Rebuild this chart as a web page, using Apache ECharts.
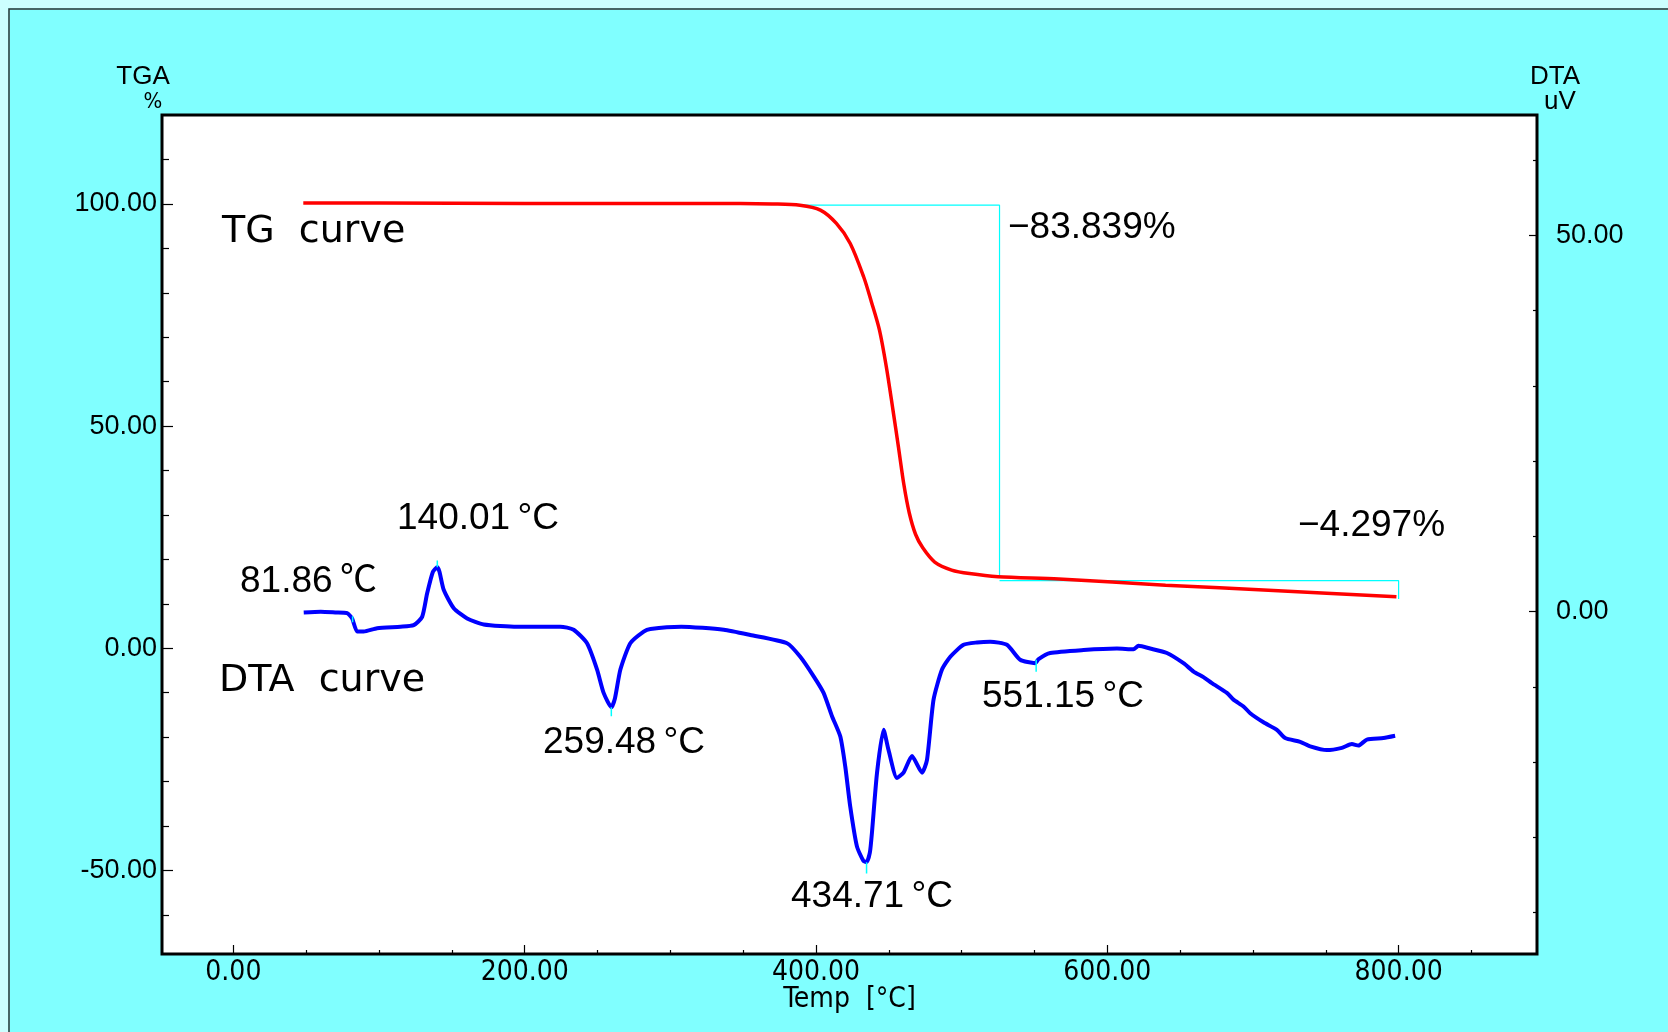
<!DOCTYPE html>
<html>
<head>
<meta charset="utf-8">
<script src="https://cdn.jsdelivr.net/npm/echarts@6/dist/echarts.min.js"></script>
<style>
html,body{margin:0;padding:0;background:#80ffff;}
#chart{width:1668px;height:1032px;}
</style>
</head>
<body>
<div id="chart"></div>
<script>
// ---- data ----
const tempLabelValues = [0, 200, 400, 600, 800];
const tempMinorTicks = [50, 100, 150, 250, 300, 350, 450, 500, 550, 650, 700, 750, 850];
const tgaLabelValues = [100, 50, 0, -50];
const tgaMinorTicks = [-60, -40, -30, -20, -10, 10, 20, 30, 40, 60, 70, 80, 90, 110];
const dtaLabelValues = [50, 0];
const dtaMinorTicks = [-40, -30, -20, -10, 10, 20, 30, 40, 60];

const tgCurve = [
  [48, 100.2], [100, 100.2], [200, 100.1], [300, 100.1], [348, 100.1], [370, 100.0],
  [389, 99.7], [403, 98.6], [414, 95.6], [423.5, 91.1], [432.7, 83.6], [438, 78.0],
  [443.5, 71.7], [448.3, 63.3], [452.8, 53.7], [456.6, 45.3], [460.3, 36.9], [464, 30.5],
  [468.4, 25.6], [473.3, 22.6], [481.5, 19.4], [493.1, 17.6], [505.4, 16.8], [525, 16.1],
  [566.7, 15.6], [640, 14.2], [714, 13.0], [798.5, 11.6]
];

const dtaCurve = [
  [48.3, -0.1], [60, 0.0], [70, -0.1], [78.1, -0.2], [81.5, -0.9], [85.0, -2.65], [89.5, -2.65],
  [98.7, -2.2], [114.7, -2.0], [123.8, -1.8], [129.6, -0.7], [133.0, 2.4], [137.0, 5.3],
  [140.0, 5.9], [141.5, 5.3], [144.4, 2.9], [151.3, 0.45], [160.5, -0.9], [171.9, -1.7],
  [194.8, -2.0], [224.5, -2.0], [233.6, -2.4], [242.8, -4.2], [249.7, -7.7], [254.2, -10.8],
  [259.5, -12.7], [262, -11.5], [265.7, -7.7], [272.5, -4.2], [281.7, -2.65], [286.3, -2.3],
  [307.5, -2.0], [336.7, -2.4], [354.9, -3.1], [380.1, -4.2], [389.2, -6.0], [398.4, -8.6],
  [405.2, -10.8], [411.0, -13.9], [416.7, -16.6], [420.1, -20.6], [423.5, -25.9], [428.1, -31.2],
  [432.5, -33.1], [434.7, -33.3], [437, -32.0], [438.4, -29.4], [441.9, -21.4], [446.4, -15.7],
  [449.8, -18.4], [455.6, -22.1], [460.1, -21.4], [465.9, -19.2], [472.8, -21.4], [476.2, -19.7],
  [480.7, -11.7], [486.5, -7.7], [492.2, -6.0], [501.3, -4.4], [510.5, -4.1], [519.6, -4.0],
  [531.1, -4.4], [540.2, -6.4], [550.5, -6.85], [552.8, -6.3], [560.8, -5.5], [583.7, -5.1],
  [606.6, -4.9], [618.0, -5.0], [621.4, -4.55], [629.4, -4.9], [640.9, -5.5], [652.3, -6.85],
  [659.2, -7.96], [666.0, -8.7], [671.8, -9.5], [682.1, -10.8], [686.6, -11.7], [693.5, -12.6],
  [698.1, -13.5], [707.2, -14.7], [716.4, -15.7], [722.1, -16.8], [732.4, -17.3], [739.3, -17.9],
  [750.7, -18.4], [761.0, -18.1], [767.9, -17.6], [772.4, -17.8], [778.2, -17.0], [789.6, -16.8],
  [797.6, -16.5]
];

const step1Lines = [[380, 99.7], [526, 99.7], [526, 16.1]];
const step2Lines = [[526, 15.2], [800, 15.2], [800, 11.1]];
const peakMarks = [
  [[81.86, -0.6], [81.86, -1.4]],
  [[140.01, 5.9], [140.01, 6.8]],
  [[259.48, -12.7], [259.48, -13.9]],
  [[434.71, -33.3], [434.71, -34.8]],
  [[551.15, -6.4], [551.15, -8.0]]
];

const annotations = [
  {text: 'TG  curve', x: 222, y: 232, wide: true},
  {text: '\u221283.839%', x: 1008, y: 228},
  {text: '\u22124.297%', x: 1298, y: 526},
  {text: '140.01\u2009\u00b0C', x: 397, y: 519},
  {text: '81.86\u2009\u2103', x: 240, y: 582},
  {text: 'DTA  curve', x: 219, y: 681, wide: true},
  {text: '259.48\u2009\u00b0C', x: 543, y: 743},
  {text: '434.71\u2009\u00b0C', x: 791, y: 897},
  {text: '551.15\u2009\u00b0C', x: 982, y: 697}
];

// ---- chart ----
const chart = echarts.init(document.getElementById('chart'), null, {renderer: 'canvas'});
const X_MIN = -49, X_MAX = 895;
const TGA_MIN = -68.8, TGA_MAX = 120;
const DTA_MIN = -45.5, DTA_MAX = 66;
const narrow = "'Liberation Sans Narrow', 'DejaVu Sans Condensed', 'Liberation Sans', sans-serif";
const sans = "'Liberation Sans', 'Noto Sans CJK JP', Arial, sans-serif";
const wideSans = "'DejaVu Sans', 'Liberation Sans', sans-serif";

const series = [
  {type: 'line', name: 'step1', xAxisIndex: 0, yAxisIndex: 0, data: step1Lines, symbol: 'none',
   lineStyle: {color: '#00ffff', width: 1.2}, silent: true, z: 2},
  {type: 'line', name: 'step2', xAxisIndex: 0, yAxisIndex: 0, data: step2Lines, symbol: 'none',
   lineStyle: {color: '#00ffff', width: 1.2}, silent: true, z: 2},
  {type: 'line', name: 'TG curve', xAxisIndex: 0, yAxisIndex: 0, data: tgCurve, symbol: 'none',
   smooth: 0.3, lineStyle: {color: '#ff0000', width: 3.5}, z: 3},
  {type: 'line', name: 'DTA curve', xAxisIndex: 0, yAxisIndex: 2, data: dtaCurve, symbol: 'none',
   smooth: 0.2, lineStyle: {color: '#0000ff', width: 4}, z: 3}
];
peakMarks.forEach((seg, i) => {
  series.push({type: 'line', name: 'peak' + i, xAxisIndex: 0, yAxisIndex: 2, data: seg, symbol: 'none',
    lineStyle: {color: '#00ffff', width: 1.5}, silent: true, z: 4});
});

const graphics = [
  {type: 'rect', shape: {x: 9, y: 9, width: 1680, height: 1050},
   style: {fill: 'none', stroke: '#333', lineWidth: 1.5}, silent: true, z: -1},
  {type: 'rect', shape: {x: 0, y: 0, width: 8, height: 1032}, style: {fill: '#ccffff'}, silent: true},
  {type: 'rect', shape: {x: 0, y: 0, width: 1668, height: 8}, style: {fill: '#ccffff'}, silent: true},
  {type: 'text', x: 143, y: 77, style: {text: 'TGA', font: '26px ' + sans, fill: '#000', align: 'center', verticalAlign: 'middle'}},
  {type: 'text', x: 153, y: 102, style: {text: '%', font: '22px ' + narrow, fill: '#000', align: 'center', verticalAlign: 'middle'}},
  {type: 'text', x: 1555, y: 77, style: {text: 'DTA', font: '26px ' + sans, fill: '#000', align: 'center', verticalAlign: 'middle'}},
  {type: 'text', x: 1560, y: 102, style: {text: 'uV', font: '26px ' + sans, fill: '#000', align: 'center', verticalAlign: 'middle'}}
];
annotations.forEach(a => {
  graphics.push({type: 'text', x: a.x, y: a.y, z: 10,
    style: {text: a.text, font: (a.wide ? '38px ' + wideSans : '37px ' + sans), fill: '#000', align: 'left', verticalAlign: 'middle'}});
});

const tickFmt = v => Number(v).toFixed(2);
const hideLine = {show: false, onZero: false};

chart.setOption({
  backgroundColor: '#80ffff',
  animation: false,
  grid: {left: 162, top: 115, width: 1375, height: 839, show: true, backgroundColor: '#ffffff',
         borderColor: '#000', borderWidth: 3, containLabel: false},
  xAxis: [
    {type: 'value', min: X_MIN, max: X_MAX, position: 'bottom',
     name: 'Temp  [\u00b0C]', nameLocation: 'middle', nameGap: 32, nameMoveOverlap: false,
     nameTextStyle: {fontFamily: narrow, fontSize: 28, color: '#000'},
     axisLine: hideLine, splitLine: {show: false},
     axisTick: {show: true, inside: true, length: 9, customValues: tempLabelValues, lineStyle: {color: '#000', width: 1.2}},
     axisLabel: {show: true, customValues: tempLabelValues, formatter: tickFmt, margin: 5,
                 fontFamily: narrow, fontSize: 28, color: '#000'}},
    {type: 'value', min: X_MIN, max: X_MAX, position: 'bottom',
     axisLine: hideLine, splitLine: {show: false},
     axisTick: {show: true, inside: true, length: 4, customValues: tempMinorTicks, lineStyle: {color: '#000', width: 1.2}},
     axisLabel: {show: false}}
  ],
  yAxis: [
    {type: 'value', min: TGA_MIN, max: TGA_MAX, position: 'left',
     axisLine: hideLine, splitLine: {show: false},
     axisTick: {show: true, inside: true, length: 11, customValues: tgaLabelValues, lineStyle: {color: '#000', width: 1.2}},
     axisLabel: {show: true, customValues: tgaLabelValues, formatter: tickFmt, margin: 5,
                 fontFamily: sans, fontSize: 27, color: '#000'}},
    {type: 'value', min: TGA_MIN, max: TGA_MAX, position: 'left',
     axisLine: hideLine, splitLine: {show: false},
     axisTick: {show: true, inside: true, length: 7, customValues: tgaMinorTicks, lineStyle: {color: '#000', width: 1.2}},
     axisLabel: {show: false}},
    {type: 'value', min: DTA_MIN, max: DTA_MAX, position: 'right',
     axisLine: hideLine, splitLine: {show: false},
     axisTick: {show: true, inside: true, length: 8, customValues: dtaLabelValues, lineStyle: {color: '#000', width: 1.2}},
     axisLabel: {show: true, customValues: dtaLabelValues, formatter: tickFmt, margin: 19,
                 fontFamily: sans, fontSize: 27, color: '#000'}},
    {type: 'value', min: DTA_MIN, max: DTA_MAX, position: 'right',
     axisLine: hideLine, splitLine: {show: false},
     axisTick: {show: true, inside: true, length: 4, customValues: dtaMinorTicks, lineStyle: {color: '#000', width: 1.2}},
     axisLabel: {show: false}}
  ],
  series: series,
  graphic: graphics
});
</script>
</body>
</html>
